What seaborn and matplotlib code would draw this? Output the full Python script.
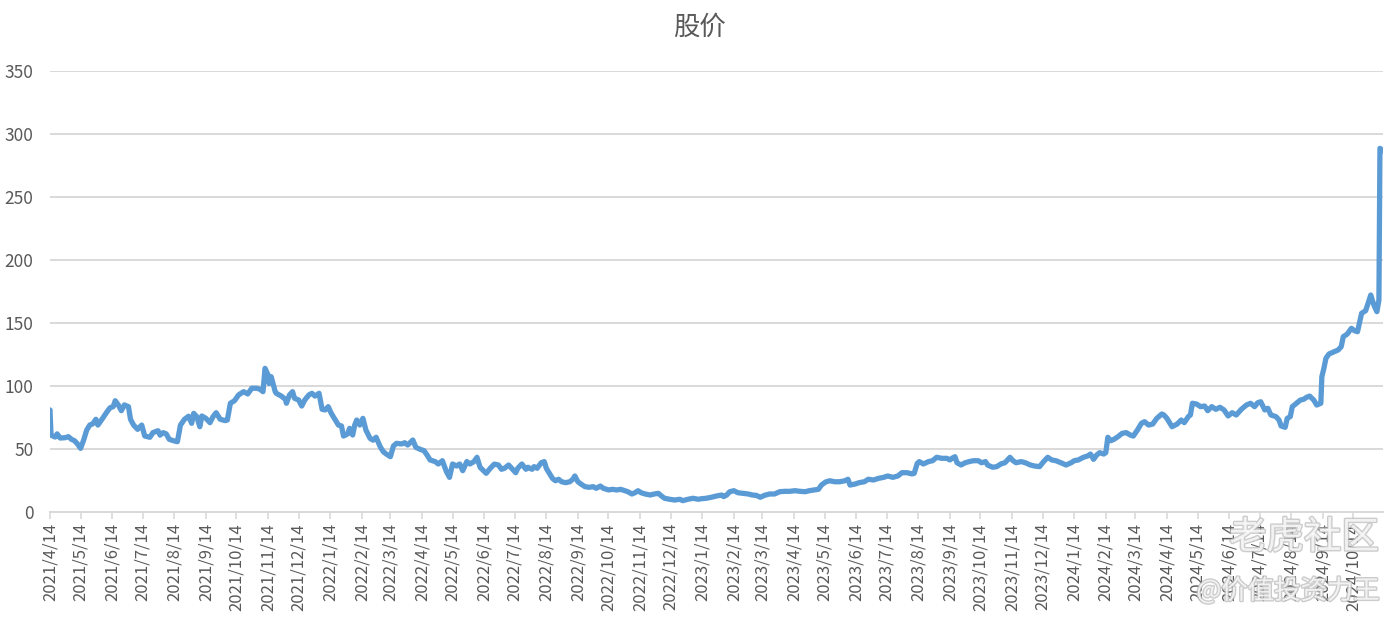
import matplotlib
matplotlib.use("Agg")
import matplotlib.pyplot as plt
import matplotlib.patheffects as pe
import seaborn as sns
import pandas as pd
import numpy as np

title = "股价"

dates = [
    "2021-04-14", "2021-04-15", "2021-04-19", "2021-04-21", "2021-04-24", "2021-04-29", "2021-05-02",
    "2021-05-05", "2021-05-08", "2021-05-11", "2021-05-14", "2021-05-17", "2021-05-20", "2021-05-23",
    "2021-05-26", "2021-05-29", "2021-05-31", "2021-06-04", "2021-06-09", "2021-06-12", "2021-06-15",
    "2021-06-17", "2021-06-20", "2021-06-23", "2021-06-26", "2021-06-30", "2021-07-02", "2021-07-05",
    "2021-07-09", "2021-07-13", "2021-07-16", "2021-07-21", "2021-07-24", "2021-07-29", "2021-07-31",
    "2021-08-03", "2021-08-06", "2021-08-09", "2021-08-13", "2021-08-17", "2021-08-20", "2021-08-24",
    "2021-08-28", "2021-08-31", "2021-09-02", "2021-09-05", "2021-09-08", "2021-09-10", "2021-09-14",
    "2021-09-18", "2021-09-21", "2021-09-24", "2021-09-28", "2021-10-03", "2021-10-05", "2021-10-08",
    "2021-10-12", "2021-10-16", "2021-10-21", "2021-10-25", "2021-10-29", "2021-11-03", "2021-11-06",
    "2021-11-09", "2021-11-11", "2021-11-14", "2021-11-15", "2021-11-17", "2021-11-21", "2021-11-22",
    "2021-11-27", "2021-12-01", "2021-12-02", "2021-12-05", "2021-12-08", "2021-12-10", "2021-12-14",
    "2021-12-17", "2021-12-20", "2021-12-24", "2021-12-27", "2021-12-30", "2022-01-03", "2022-01-06",
    "2022-01-09", "2022-01-12", "2022-01-15", "2022-01-19", "2022-01-22", "2022-01-25", "2022-01-27",
    "2022-01-31", "2022-02-02", "2022-02-05", "2022-02-07", "2022-02-09", "2022-02-12", "2022-02-15",
    "2022-02-18", "2022-02-22", "2022-02-25", "2022-02-28", "2022-03-04", "2022-03-07", "2022-03-10",
    "2022-03-14", "2022-03-17", "2022-03-20", "2022-03-25", "2022-03-28", "2022-03-31", "2022-04-05",
    "2022-04-08", "2022-04-12", "2022-04-16", "2022-04-19", "2022-04-22", "2022-04-27", "2022-04-30",
    "2022-05-04", "2022-05-08", "2022-05-11", "2022-05-14", "2022-05-18", "2022-05-21", "2022-05-24",
    "2022-05-28", "2022-05-31", "2022-06-04", "2022-06-07", "2022-06-10", "2022-06-16", "2022-06-20",
    "2022-06-24", "2022-06-28", "2022-07-01", "2022-07-04", "2022-07-08", "2022-07-11", "2022-07-15",
    "2022-07-17", "2022-07-21", "2022-07-25", "2022-07-27", "2022-07-31", "2022-08-02", "2022-08-05",
    "2022-08-09", "2022-08-12", "2022-08-14", "2022-08-16", "2022-08-20", "2022-08-23", "2022-08-26",
    "2022-08-29", "2022-09-02", "2022-09-06", "2022-09-09", "2022-09-11", "2022-09-14", "2022-09-17",
    "2022-09-21", "2022-09-25", "2022-09-29", "2022-10-02", "2022-10-06", "2022-10-09", "2022-10-14",
    "2022-10-18", "2022-10-22", "2022-10-26", "2022-10-30", "2022-11-02", "2022-11-06", "2022-11-09",
    "2022-11-12", "2022-11-15", "2022-11-19", "2022-11-24", "2022-11-28", "2022-12-02", "2022-12-05",
    "2022-12-08", "2022-12-13", "2022-12-18", "2022-12-23", "2022-12-26", "2022-12-31", "2023-01-05",
    "2023-01-10", "2023-01-14", "2023-01-18", "2023-01-23", "2023-01-28", "2023-02-02", "2023-02-04",
    "2023-02-07", "2023-02-10", "2023-02-14", "2023-02-18", "2023-02-23", "2023-02-28", "2023-03-04",
    "2023-03-08", "2023-03-12", "2023-03-16", "2023-03-21", "2023-03-26", "2023-03-31", "2023-04-05",
    "2023-04-10", "2023-04-15", "2023-04-20", "2023-04-25", "2023-04-29", "2023-05-04", "2023-05-08",
    "2023-05-11", "2023-05-15", "2023-05-19", "2023-05-24", "2023-05-29", "2023-06-03", "2023-06-06",
    "2023-06-08", "2023-06-13", "2023-06-17", "2023-06-22", "2023-06-26", "2023-07-01", "2023-07-06",
    "2023-07-11", "2023-07-15", "2023-07-20", "2023-07-25", "2023-07-29", "2023-08-03", "2023-08-08",
    "2023-08-10", "2023-08-13", "2023-08-15", "2023-08-19", "2023-08-24", "2023-08-28", "2023-09-01",
    "2023-09-06", "2023-09-11", "2023-09-14", "2023-09-16", "2023-09-19", "2023-09-21", "2023-09-25",
    "2023-09-29", "2023-10-03", "2023-10-07", "2023-10-12", "2023-10-15", "2023-10-19", "2023-10-21",
    "2023-10-26", "2023-10-30", "2023-11-03", "2023-11-07", "2023-11-12", "2023-11-15", "2023-11-18",
    "2023-11-23", "2023-11-27", "2023-12-02", "2023-12-06", "2023-12-11", "2023-12-15", "2023-12-19",
    "2023-12-23", "2023-12-27", "2024-01-01", "2024-01-06", "2024-01-11", "2024-01-14", "2024-01-18",
    "2024-01-23", "2024-01-27", "2024-01-30", "2024-02-02", "2024-02-05", "2024-02-08", "2024-02-12",
    "2024-02-14", "2024-02-16", "2024-02-19", "2024-02-22", "2024-02-26", "2024-03-01", "2024-03-05",
    "2024-03-09", "2024-03-12", "2024-03-16", "2024-03-20", "2024-03-23", "2024-03-27", "2024-03-31",
    "2024-04-04", "2024-04-09", "2024-04-11", "2024-04-14", "2024-04-19", "2024-04-24", "2024-04-28",
    "2024-05-01", "2024-05-05", "2024-05-07", "2024-05-09", "2024-05-13", "2024-05-17", "2024-05-21",
    "2024-05-24", "2024-05-28", "2024-06-01", "2024-06-05", "2024-06-09", "2024-06-13", "2024-06-17",
    "2024-06-21", "2024-06-26", "2024-07-01", "2024-07-05", "2024-07-09", "2024-07-12", "2024-07-15",
    "2024-07-19", "2024-07-22", "2024-07-25", "2024-07-30", "2024-08-02", "2024-08-04", "2024-08-08",
    "2024-08-10", "2024-08-13", "2024-08-15", "2024-08-19", "2024-08-23", "2024-08-26", "2024-08-29",
    "2024-09-01", "2024-09-05", "2024-09-08", "2024-09-12", "2024-09-13", "2024-09-15", "2024-09-17",
    "2024-09-20", "2024-09-25", "2024-09-29", "2024-10-02", "2024-10-04", "2024-10-08", "2024-10-12",
    "2024-10-15", "2024-10-18", "2024-10-22", "2024-10-26", "2024-10-31", "2024-11-03", "2024-11-06",
    "2024-11-08", "2024-11-09", "2024-11-12",
]

prices = [
    81.0, 61.0, 59.5, 62.0, 58.7, 59.0, 59.8,
    57.7, 56.6, 54.0, 50.5, 57.0, 65.0, 69.0,
    70.0, 73.6, 69.0, 73.6, 79.6, 82.8, 83.6,
    88.3, 85.0, 80.4, 85.0, 83.6, 73.6, 69.0,
    65.6, 69.0, 60.3, 59.3, 63.0, 64.5, 61.0,
    63.0, 62.0, 57.7, 56.6, 55.8, 69.0, 73.6,
    76.0, 70.4, 78.3, 75.7, 67.7, 76.2, 74.3,
    70.9, 75.7, 78.8, 73.6, 72.5, 73.0, 86.3,
    88.3, 92.9, 95.5, 93.7, 98.2, 98.2, 97.4,
    95.5, 114.0, 108.7, 102.0, 107.4, 95.5, 94.2,
    92.0, 89.4, 86.3, 92.9, 95.5, 90.2, 88.9,
    84.1, 88.9, 92.9, 94.2, 92.0, 94.2, 81.5,
    81.0, 83.6, 78.3, 73.0, 69.0, 68.3, 60.3,
    61.9, 66.4, 61.1, 69.0, 73.0, 69.0, 74.3,
    65.0, 58.5, 57.0, 59.3, 51.8, 47.9, 46.0,
    43.9, 52.4, 54.5, 54.0, 55.0, 53.2, 57.1,
    51.3, 49.8, 48.7, 45.2, 41.3, 40.0, 38.1,
    40.7, 32.0, 27.5, 38.1, 36.5, 38.1, 32.8,
    40.0, 38.1, 40.0, 43.4, 35.5, 30.7, 34.7,
    38.0, 37.3, 33.9, 34.7, 37.3, 34.7, 31.2,
    34.7, 38.1, 33.9, 35.5, 33.9, 36.0, 34.7,
    39.1, 40.0, 34.7, 32.0, 26.7, 24.8, 26.0,
    24.0, 23.3, 24.0, 26.0, 28.6, 24.0, 22.2,
    20.1, 19.6, 20.1, 18.8, 20.6, 18.8, 17.5,
    18.0, 17.5, 18.0, 16.9, 16.1, 14.3, 15.3,
    16.9, 15.3, 14.3, 13.5, 14.3, 14.8, 12.7,
    10.9, 10.1, 9.5, 10.1, 9.0, 10.1, 10.9,
    10.1, 10.6, 10.9, 11.7, 12.7, 13.5, 12.2,
    13.5, 16.1, 16.9, 15.3, 14.8, 14.3, 13.5,
    13.2, 11.7, 13.2, 14.3, 14.3, 16.1, 16.4,
    16.4, 16.9, 16.4, 16.1, 16.9, 17.5, 18.0,
    21.4, 23.8, 24.8, 24.0, 24.0, 24.8, 26.0,
    21.4, 22.2, 23.3, 24.0, 26.0, 25.4, 26.7,
    27.5, 28.6, 27.5, 28.6, 31.2, 31.2, 30.2,
    30.7, 38.6, 40.0, 38.1, 40.0, 40.7, 43.4,
    42.6, 42.6, 41.3, 42.6, 43.9, 39.1, 37.3,
    39.1, 40.0, 40.7, 40.7, 39.1, 40.0, 37.3,
    35.5, 36.0, 38.1, 39.1, 43.4, 40.7, 39.1,
    40.0, 39.1, 37.3, 36.5, 36.0, 40.0, 43.4,
    41.3, 40.7, 39.1, 37.3, 39.1, 40.7, 41.3,
    43.4, 44.4, 46.0, 41.8, 45.2, 47.1, 46.0,
    47.1, 59.3, 56.6, 57.7, 59.8, 62.4, 63.0,
    61.1, 60.3, 65.0, 70.4, 71.7, 69.0, 69.8,
    74.3, 77.8, 77.0, 74.3, 67.7, 69.8, 73.0,
    70.9, 75.7, 77.0, 86.3, 85.7, 83.6, 84.1,
    80.4, 83.6, 81.5, 83.1, 81.0, 76.2, 78.8,
    77.0, 81.5, 84.9, 86.3, 83.6, 86.7, 87.5,
    81.0, 82.3, 77.0, 75.7, 73.0, 68.3, 67.2,
    74.3, 75.7, 83.6, 86.3, 88.9, 89.4, 91.0,
    92.0, 88.9, 84.9, 86.3, 107.4, 114.0, 122.0,
    125.4, 127.2, 128.6, 131.2, 139.1, 141.3, 145.8,
    143.9, 143.1, 157.7, 159.8, 172.2, 164.3, 159.0,
    168.3, 288.6, 286.7,
]

y_ticks = [0, 50, 100, 150, 200, 250, 300, 350]
x_tick_start = "2021-04-14"
x_tick_end = "2024-10-14"
x_end = "2024-11-12"

watermark1 = "老虎社区"
watermark2 = "@价值投资力王"

df = pd.DataFrame({"date": pd.to_datetime(dates), "price": prices})

sns.set_theme(style="white")
plt.rcParams["font.family"] = ["Noto Sans CJK SC", "DejaVu Sans"]

fig = plt.figure(figsize=(13.99, 6.21), dpi=100)
ax = fig.add_axes([50 / 1399, 1 - 512 / 621, (1383 - 50) / 1399, (512 - 71) / 621])

line_color = "#5B9BD5"
grid_color = "#D9D9D9"
text_color = "#595959"

sns.lineplot(data=df, x="date", y="price", ax=ax, color=line_color, linewidth=3.8,
             solid_joinstyle="round", solid_capstyle="round", zorder=3)

ax.set_ylim(0, 350)
ax.set_yticks(y_ticks)
ax.set_yticklabels([str(v) for v in y_ticks], fontsize=12.5, color=text_color)
ax.yaxis.grid(True, color=grid_color, linewidth=1.4)
ax.set_axisbelow(True)

tick_dates = pd.date_range(x_tick_start, x_tick_end, freq=pd.DateOffset(months=1))
ax.set_xticks(tick_dates)
ax.set_xticklabels([f"{d.year}/{d.month}/{d.day}" for d in tick_dates],
                   rotation=90, fontsize=12, color=text_color, va="top", ha="center")
ax.set_xlim(pd.Timestamp(x_tick_start), pd.Timestamp(x_end))

ax.tick_params(axis="x", length=5, width=1.2, color=grid_color, pad=3, direction="out", bottom=True)
ax.tick_params(axis="y", length=0, pad=12)

for s in ["top", "right", "left"]:
    ax.spines[s].set_visible(False)
ax.spines["bottom"].set_color(grid_color)
ax.spines["bottom"].set_linewidth(1.4)

ax.set_xlabel("")
ax.set_ylabel("")

fig.text(699 / 1399, 1 - 27 / 621, title, ha="center", va="center", fontsize=19, color=text_color)

wm_effect = [pe.withStroke(linewidth=2, foreground="#BBBBBB")]
fig.text(1304 / 1399, 1 - 538 / 621, watermark1, ha="center", va="center", fontsize=27,
         color="white", alpha=0.75, zorder=10, path_effects=wm_effect)
fig.text(1288 / 1399, 1 - 591 / 621, watermark2, ha="center", va="center", fontsize=19,
         color="white", alpha=0.75, zorder=10, path_effects=wm_effect)

fig.savefig("out.png", dpi=100, facecolor="white")
